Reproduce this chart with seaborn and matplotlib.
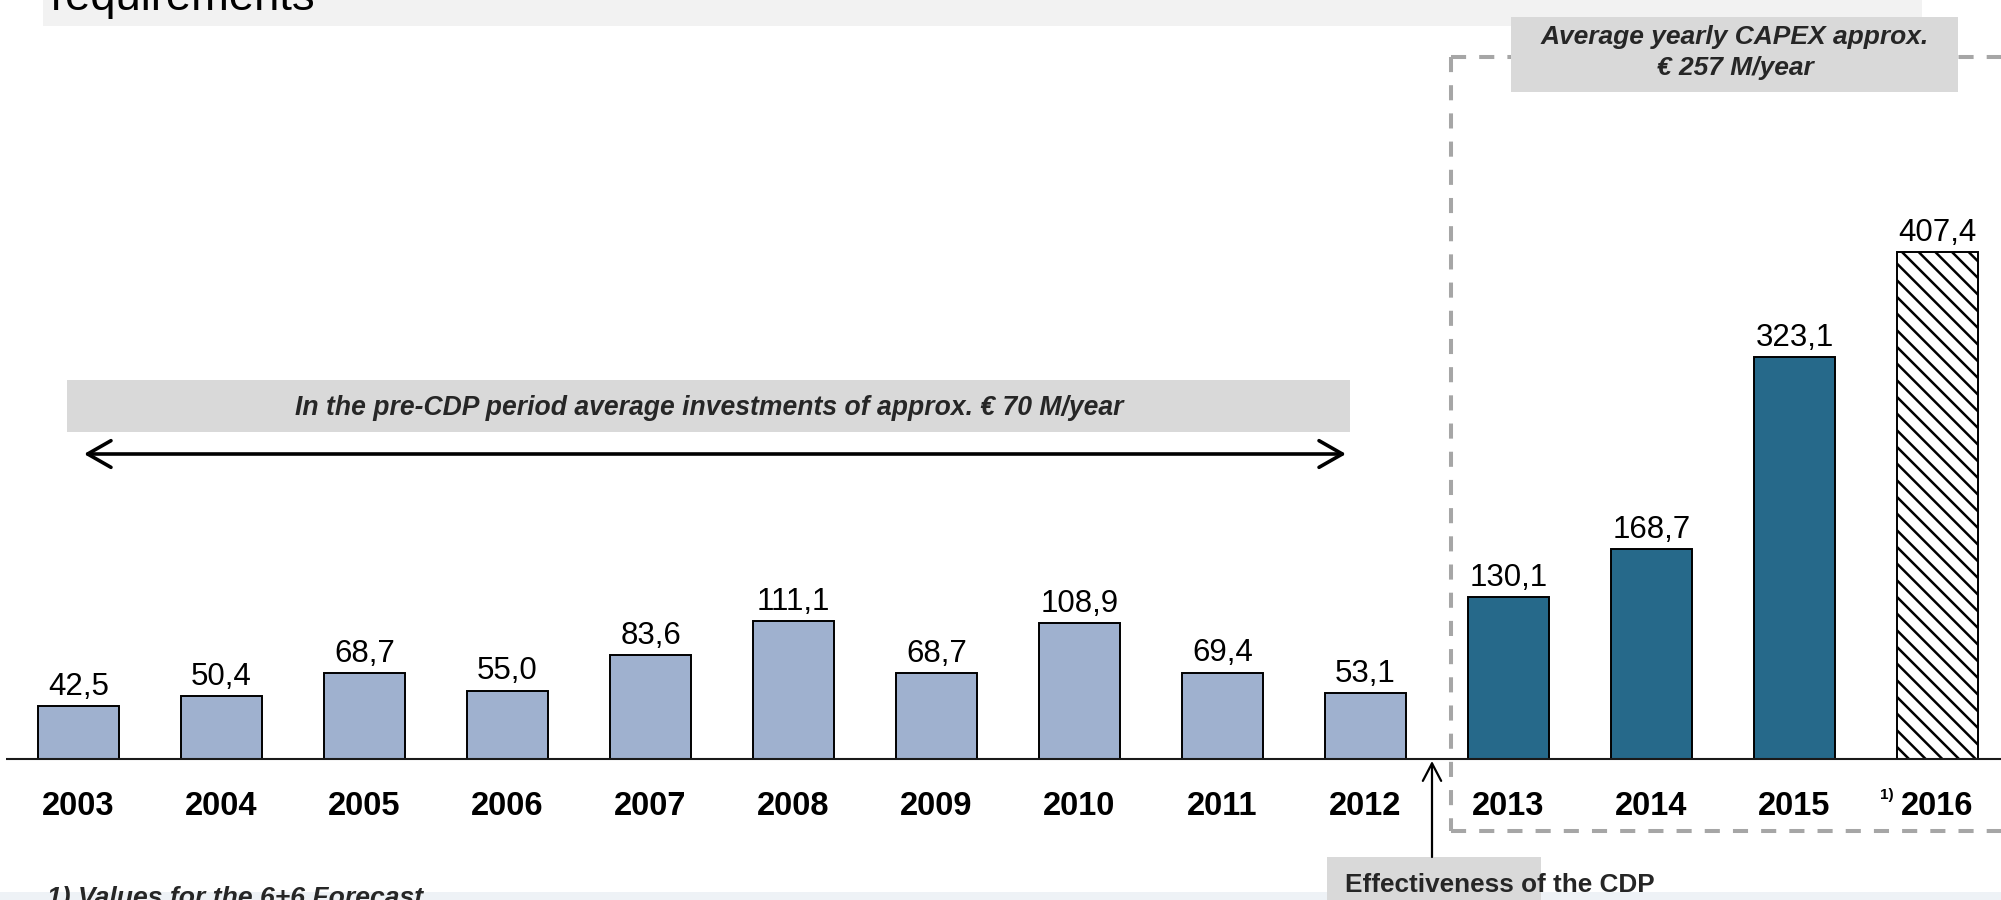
import matplotlib
matplotlib.use("Agg")
import matplotlib.pyplot as plt
from matplotlib.patches import Rectangle, FancyArrowPatch
import numpy as np
import pandas as pd
import seaborn as sns

# ---------------- data ----------------
years = ["2003", "2004", "2005", "2006", "2007", "2008", "2009",
         "2010", "2011", "2012", "2013", "2014", "2015", "2016"]
values = [42.5, 50.4, 68.7, 55.0, 83.6, 111.1, 68.7,
          108.9, 69.4, 53.1, 130.1, 168.7, 323.1, 407.4]
periods = ["pre"] * 10 + ["cdp"] * 3 + ["forecast"]
period_order = ["pre", "cdp", "forecast"]

header_text = "requirements"
pre_cdp_text = "In the pre-CDP period average investments of approx. € 70 M/year"
capex_line1 = "Average yearly CAPEX approx."
capex_line2 = "€ 257 M/year"
cdp_text = "Effectiveness of the CDP"
footnote_text = "1) Values for the 6+6 Forecast"
footnote_mark = "1)"

# ---------------- style ----------------
LIGHT = "#9FB1CF"
DARK = "#26698A"
BANNER = "#D9D9D9"
TOPBAND = "#F2F2F2"
BOTBAND = "#EEF2F6"
DASHGREY = "#A6A6A6"

sns.set_theme(style="white")
plt.rcParams["font.family"] = ["Liberation Sans", "DejaVu Sans"]
plt.rcParams["hatch.linewidth"] = 1.8
plt.rcParams["hatch.color"] = "black"

W, H = 2001, 900
fig = plt.figure(figsize=(W / 100, H / 100), dpi=100)
ax = fig.add_axes([0, 0, 1, 1])

df = pd.DataFrame({"year": years, "value": values, "period": periods})
sns.barplot(data=df, x="year", y="value", hue="period", order=years,
            hue_order=period_order,
            palette={"pre": LIGHT, "cdp": DARK, "forecast": "white"},
            dodge=False, width=0.56, saturation=1, edgecolor="black",
            linewidth=1.4, legend=False, ax=ax, zorder=3)

# hatch the forecast bar
for cont, per in zip(ax.containers, period_order):
    if per == "forecast":
        for p in cont:
            p.set_hatch("\\\\")

# pixel -> data helpers (axes covers whole figure)
X0, DX = 78.5, 143.0
BASE, SC = 759.0, 1.245


def X(px):
    return (px - X0) / DX


def Y(py):
    return (BASE - py) / SC


ax.set_xlim(X(0), X(W))
ax.set_ylim(Y(H), Y(0))
ax.axis("off")


def rect(x0, y0, x1, y1, color, z):
    ax.add_patch(Rectangle((X(x0), Y(y1)), X(x1) - X(x0), Y(y0) - Y(y1),
                           facecolor=color, edgecolor="none", zorder=z,
                           clip_on=False))


renderer = fig.canvas.get_renderer()


def fit(t, target_w):
    bb = t.get_window_extent(renderer)
    t.set_fontsize(t.get_fontsize() * target_w / bb.width)
    return t


# baseline axis
ax.plot([X(6), X(W)], [0, 0], color="#1a1a1a", lw=1.5, zorder=4,
        solid_capstyle="butt")

# value labels
for i, v in enumerate(values):
    ax.annotate(f"{v:.1f}".replace(".", ","), (i, v), xytext=(0, 8),
                textcoords="offset points", ha="center", va="baseline",
                fontsize=22.5, color="black", zorder=6)

# year labels
for i, y in enumerate(years):
    ax.text(i, Y(815), y, ha="center", va="baseline", fontsize=23.5,
            fontweight="bold", color="black", zorder=6)
ax.text(X(1880), Y(788), footnote_mark, ha="left", va="top", fontsize=11,
        fontweight="bold", color="black", zorder=6)

# top band + header text
rect(43, 0, 1922, 26, TOPBAND, 1)
t = ax.text(X(51), Y(10), header_text, ha="left", va="baseline", fontsize=30,
            color="black", zorder=6)
fit(t, 264)

# dashed box (CDP period)
dash_kw = dict(color=DASHGREY, lw=2.9, dashes=(3.75, 3.25),
               dash_capstyle="butt", zorder=2, clip_on=False)
ax.plot([X(1451), X(W)], [Y(57), Y(57)], **dash_kw)
ax.plot([X(1451), X(1451)], [Y(57), Y(831)], **dash_kw)
ax.plot([X(1451), X(W)], [Y(831), Y(831)], **dash_kw)

# CAPEX banner
rect(1511, 17, 1958, 92, BANNER, 4)
t1 = ax.text(X(1735), Y(44), capex_line1, ha="center", va="baseline",
             fontsize=18, fontweight="bold", fontstyle="italic", zorder=6)
fit(t1, 389)
ax.text(X(1735), Y(75), capex_line2, ha="center", va="baseline",
        fontsize=t1.get_fontsize(), fontweight="bold", fontstyle="italic",
        zorder=6)

# pre-CDP banner and arrow
rect(67, 380, 1350, 432, BANNER, 4)
t = ax.text(X(709), Y(415), pre_cdp_text, ha="center", va="baseline",
            fontsize=18, fontweight="bold", fontstyle="italic", zorder=6)
fit(t, 827)
ax.add_patch(FancyArrowPatch(
    (X(84), Y(454)), (X(1346), Y(454)),
    arrowstyle="<->,head_length=0.42,head_width=0.24", mutation_scale=40,
    lw=2.6, color="black", shrinkA=0, shrinkB=0, zorder=6))

# bottom band, CDP effectiveness box and arrow
rect(0, 892, W, 900, BOTBAND, 1)
rect(1327, 857, 1541, 900, BANNER, 2)
ax.add_patch(FancyArrowPatch(
    (X(1432), Y(857)), (X(1432), Y(761)),
    arrowstyle="->,head_length=0.42,head_width=0.22", mutation_scale=30,
    lw=1.6, color="black", shrinkA=0, shrinkB=0, zorder=6))
t = ax.text(X(1345), Y(892), cdp_text, ha="left", va="baseline",
            fontsize=17, fontweight="bold", zorder=6)
fit(t, 310)

# footnote (cut by the bottom edge)
t = ax.text(X(47), Y(903), footnote_text, ha="left", va="baseline",
            fontsize=17, fontweight="bold", fontstyle="italic", zorder=6)
fit(t, 375)
cap = 0.716 * t.get_fontsize() * 100 / 72
t.set_position((X(47), Y(886 + cap)))

fig.savefig("out.png", dpi=100)
